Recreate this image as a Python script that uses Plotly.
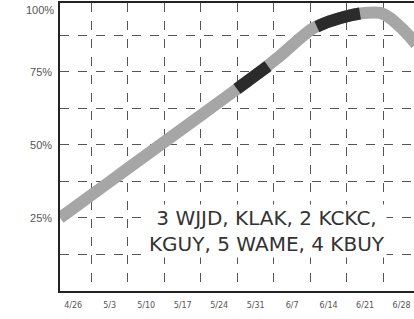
import plotly.graph_objects as go

# Week labels (x positions are week indices, 0 = 4/26)
week_labels = ["4/26", "5/3", "5/10", "5/17", "5/24", "5/31", "6/7", "6/14", "6/21", "6/28"]
week_pos = list(range(len(week_labels)))
grid_x = [0.5, 1.5, 2.5, 3.5, 4.5, 5.5, 6.5, 7.5, 8.5, 9.5]

# Share curve (percent)
curve_x = [-0.36, 0, 1, 2, 3, 4, 5, 5.67, 6.58, 7.32, 7.86, 8.41, 8.68, 9.0, 9.23, 9.4]
curve_y = [25.0, 28.3, 37.4, 46.5, 55.6, 64.7, 73.9, 80.5, 90.0, 93.5, 95.0, 95.2, 93.5, 90.0, 87.0, 84.5]

# Dark-highlighted stretches
dark1_x = [4.49, 5.0, 5.34]
dark1_y = [69.2, 73.9, 77.0]
dark2_x = [6.68, 7.0, 7.32, 7.60, 7.86]
dark2_y = [90.5, 92.2, 93.5, 94.4, 95.0]

y_grid = [12.5, 25, 37.5, 50, 62.5, 75, 87.5]
y_text = ["", "25%", "", "50%", "", "75%", ""]

label_text = "3 WJJD, KLAK, 2 KCKC,<br>KGUY, 5 WAME, 4 KBUY"

GRAY = "#a6a6a6"
DARK = "#2b2b2b"

fig = go.Figure()
fig.add_trace(go.Scatter(x=curve_x, y=curve_y, mode="lines",
                         line=dict(color=GRAY, width=12, shape="spline", smoothing=0.8),
                         hoverinfo="skip", showlegend=False))
fig.add_trace(go.Scatter(x=dark1_x, y=dark1_y, mode="lines",
                         line=dict(color=DARK, width=12, shape="spline"),
                         hoverinfo="skip", showlegend=False))
fig.add_trace(go.Scatter(x=dark2_x, y=dark2_y, mode="lines",
                         line=dict(color=DARK, width=12, shape="spline"),
                         hoverinfo="skip", showlegend=False))

fig.add_annotation(x=5.3, y=20.5, xref="x", yref="y", text=label_text,
                   showarrow=False, align="center",
                   font=dict(family="DejaVu Sans, sans-serif", size=20, color="#333333"),
                   bgcolor="white", borderpad=1)
fig.add_annotation(x=0, y=96.3, xref="paper", yref="y", text="100%",
                   xanchor="right", yanchor="middle", xshift=-4, showarrow=False,
                   font=dict(family="Liberation Sans, Arial, sans-serif", size=11, color="#555555"))

fig.update_layout(
    width=414, height=319,
    margin=dict(l=60, r=0, t=3, b=28),
    paper_bgcolor="white", plot_bgcolor="white",
    xaxis=dict(range=[-0.36, 9.34], tickmode="array", tickvals=week_pos, ticktext=week_labels,
               showgrid=False, zeroline=False, ticks="", ticklabelstandoff=6,
               tickfont=dict(family="DejaVu Sans, sans-serif", size=8, color="#555555"),
               showline=True, linecolor="#222222", linewidth=1.5, mirror=True,
               minor=dict(tickmode="array", tickvals=grid_x, showgrid=True,
                          gridcolor="#555555", gridwidth=1, griddash="dash", ticks="")),
    yaxis=dict(range=[0, 98.6], tickmode="array", tickvals=y_grid, ticktext=y_text,
               showgrid=True, gridcolor="#555555", gridwidth=1, griddash="dash",
               zeroline=False, ticks="", ticklabelstandoff=4,
               tickfont=dict(family="Liberation Sans, Arial, sans-serif", size=11, color="#555555"),
               showline=True, linecolor="#222222", linewidth=1.5),
)

fig.write_html("out.html", config={"displayModeBar": False},
               post_script="document.body.style.margin='0';document.body.style.overflow='hidden';")
